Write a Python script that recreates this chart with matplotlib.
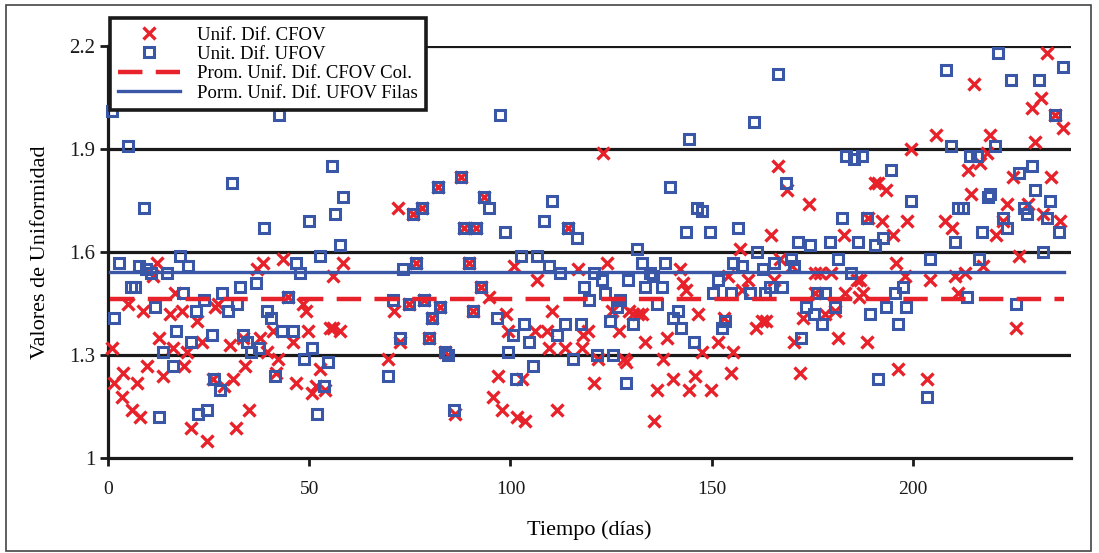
import matplotlib
matplotlib.use("Agg")
import matplotlib.pyplot as plt
from matplotlib.patches import Rectangle

plt.rcParams['font.family'] = ['Liberation Serif', 'DejaVu Serif']

# Unif. Dif. UFOV (cuadrados azules)
ufov_dias = [1.0, 1.5, 2.7, 5.0, 5.7, 6.7, 7.7, 8.9, 9.4, 10.7,
             11.7, 12.7, 13.7, 14.7, 16.1, 16.9, 17.9, 18.6, 19.9, 20.6,
             21.9, 22.4, 23.9, 24.6, 25.8, 26.3, 27.8, 28.3, 29.8, 30.8,
             32.0, 32.8, 33.5, 34.5, 35.5, 36.8, 37.5, 38.8, 39.5, 40.5,
             41.5, 42.5, 43.2, 44.7, 46.0, 46.7, 47.7, 48.7, 49.9, 50.7,
             51.9, 52.7, 53.7, 54.7, 55.7, 56.4, 57.6, 58.4, 69.6, 70.8,
             72.5, 73.3, 74.8, 75.8, 76.5, 78.0, 78.5, 79.8, 80.5, 82.0,
             82.5, 83.7, 84.5, 86.0, 87.7, 88.4, 89.7, 90.7, 91.4, 92.7,
             93.4, 94.7, 96.6, 97.4, 98.6, 99.4, 100.6, 101.4, 102.6, 103.4,
             104.6, 105.6, 106.6, 108.3, 109.6, 110.3, 111.6, 112.3, 113.5, 114.3,
             115.5, 116.5, 117.5, 118.3, 119.5, 120.7, 121.5, 122.7, 123.5, 124.7,
             125.5, 126.5, 127.2, 128.7, 129.2, 130.4, 131.4, 132.7, 133.4, 134.7,
             135.4, 136.4, 137.6, 138.4, 139.6, 140.4, 141.6, 142.4, 143.6, 144.3,
             145.6, 146.3, 147.6, 149.6, 150.3, 151.5, 152.5, 153.3, 154.8, 155.3,
             156.5, 157.5, 159.5, 160.5, 161.2, 162.7, 163.2, 164.5, 165.5, 166.5,
             167.5, 168.4, 169.7, 170.4, 171.4, 172.2, 173.4, 174.4, 175.4, 176.1,
             177.4, 178.1, 179.4, 180.6, 181.4, 182.4, 183.4, 184.6, 185.3, 186.3,
             187.3, 188.6, 189.3, 190.6, 191.3, 192.5, 193.3, 194.5, 195.5, 196.3,
             197.5, 198.3, 199.5, 203.5, 204.2, 208.2, 209.4, 210.4, 211.2, 212.4,
             213.4, 214.2, 215.9, 216.4, 217.1, 218.6, 219.1, 220.4, 221.1, 222.4,
             223.4, 224.3, 225.6, 226.3, 227.6, 228.3, 229.6, 230.3, 231.3, 232.3,
             233.3, 234.0, 235.3, 236.3, 237.3]
ufov_vals = [2.01, 1.41, 1.57, 1.91, 1.50, 1.50, 1.56, 1.73, 1.55, 1.54,
             1.44, 1.12, 1.31, 1.54, 1.27, 1.37, 1.59, 1.48, 1.56, 1.34,
             1.43, 1.13, 1.46, 1.14, 1.36, 1.23, 1.20, 1.48, 1.43, 1.80,
             1.45, 1.50, 1.36, 1.34, 1.31, 1.51, 1.32, 1.67, 1.43, 1.41,
             1.24, 2.00, 1.37, 1.47, 1.37, 1.57, 1.54, 1.29, 1.69, 1.32,
             1.13, 1.59, 1.21, 1.28, 1.85, 1.71, 1.62, 1.76, 1.24, 1.46,
             1.35, 1.55, 1.45, 1.71, 1.57, 1.73, 1.46, 1.35, 1.41, 1.79,
             1.44, 1.31, 1.30, 1.14, 1.82, 1.67, 1.57, 1.43, 1.67, 1.50,
             1.76, 1.73, 1.41, 2.00, 1.66, 1.31, 1.36, 1.23, 1.59, 1.39,
             1.34, 1.27, 1.59, 1.69, 1.56, 1.75, 1.36, 1.54, 1.39, 1.67,
             1.29, 1.64, 1.39, 1.50, 1.46, 1.54, 1.30, 1.52, 1.48, 1.40,
             1.30, 1.44, 1.46, 1.22, 1.52, 1.39, 1.61, 1.57, 1.50, 1.54,
             1.53, 1.45, 1.50, 1.57, 1.79, 1.41, 1.43, 1.38, 1.66, 1.93,
             1.34, 1.73, 1.72, 1.66, 1.48, 1.52, 1.38, 1.40, 1.48, 1.57,
             1.67, 1.56, 1.48, 1.98, 1.60, 1.55, 1.48, 1.50, 1.57, 2.12,
             1.50, 1.80, 1.58, 1.56, 1.63, 1.35, 1.44, 1.62, 1.42, 1.48,
             1.39, 1.48, 1.63, 1.44, 1.58, 1.70, 1.88, 1.54, 1.87, 1.63,
             1.88, 1.70, 1.42, 1.62, 1.23, 1.64, 1.44, 1.84, 1.48, 1.39,
             1.50, 1.44, 1.75, 1.18, 1.58, 2.13, 1.91, 1.63, 1.73, 1.73,
             1.47, 1.88, 1.88, 1.58, 1.66, 1.76, 1.77, 1.91, 2.18, 1.70,
             1.67, 2.10, 1.45, 1.83, 1.73, 1.71, 1.85, 1.78, 2.10, 1.60,
             1.70, 1.75, 2.00, 1.66, 2.14]

# Unif. Dif. CFOV (cruces rojas)
cfov_dias = [1.0, 1.5, 3.5, 3.7, 5.0, 6.0, 7.2, 8.0, 8.7, 9.7,
             11.2, 12.2, 12.7, 13.7, 15.4, 16.1, 16.6, 18.4, 18.9, 19.6,
             20.6, 22.1, 23.4, 24.6, 26.1, 26.6, 27.3, 28.8, 30.3, 31.1,
             31.8, 33.5, 34.0, 35.0, 37.0, 37.8, 38.5, 39.5, 41.0, 41.7,
             42.2, 43.5, 44.7, 46.0, 46.7, 48.4, 49.2, 49.7, 50.7, 51.7,
             52.7, 53.9, 55.2, 55.9, 55.9, 57.6, 58.4, 69.6, 71.1, 72.0,
             72.5, 74.8, 75.8, 76.5, 78.0, 78.5, 79.8, 80.5, 82.0, 82.5,
             83.7, 86.2, 87.7, 88.4, 89.7, 90.7, 91.4, 92.7, 93.4, 94.7,
             95.7, 96.9, 97.9, 98.9, 99.4, 100.9, 101.6, 102.9, 103.6, 106.1,
             106.6, 109.1, 109.6, 110.3, 111.6, 113.5, 114.3, 116.8, 117.8, 118.0,
             119.3, 120.7, 121.7, 123.0, 124.0, 125.2, 127.0, 128.2, 128.7, 129.4,
             130.4, 131.7, 132.7, 133.4, 135.7, 136.4, 137.9, 138.9, 140.4, 142.1,
             142.9, 143.6, 144.3, 145.8, 146.6, 147.6, 149.8, 151.5, 153.0, 154.0,
             154.8, 155.3, 157.0, 157.5, 159.0, 161.0, 162.5, 163.5, 164.7, 165.5,
             166.5, 167.0, 168.7, 169.9, 170.4, 171.9, 172.7, 174.2, 175.7, 175.7,
             176.9, 178.1, 179.6, 180.6, 181.4, 182.9, 183.1, 186.1, 186.6, 186.8,
             187.6, 188.6, 188.8, 190.6, 191.3, 192.3, 193.3, 195.0, 195.8, 196.3,
             198.0, 198.5, 199.5, 203.5, 204.2, 205.7, 208.0, 209.7, 210.4, 211.2,
             212.9, 213.7, 214.4, 215.2, 216.6, 217.4, 218.4, 219.1, 220.6, 222.4,
             223.4, 224.8, 225.6, 226.3, 228.6, 229.6, 230.3, 231.8, 232.3, 233.3,
             234.3, 235.3, 236.5, 237.3]
cfov_vals = [1.32, 1.22, 1.18, 1.25, 1.45, 1.14, 1.22, 1.12, 1.43, 1.27,
             1.53, 1.57, 1.35, 1.24, 1.42, 1.32, 1.48, 1.43, 1.27, 1.31,
             1.09, 1.40, 1.34, 1.05, 1.23, 1.44, 1.45, 1.21, 1.33, 1.23,
             1.09, 1.35, 1.27, 1.14, 1.55, 1.35, 1.57, 1.31, 1.37, 1.25,
             1.29, 1.58, 1.47, 1.34, 1.22, 1.45, 1.43, 1.37, 1.19, 1.21,
             1.26, 1.20, 1.38, 1.38, 1.53, 1.37, 1.57, 1.29, 1.43, 1.73,
             1.34, 1.45, 1.71, 1.57, 1.73, 1.46, 1.35, 1.41, 1.79, 1.44,
             1.31, 1.13, 1.82, 1.67, 1.57, 1.43, 1.67, 1.50, 1.76, 1.47,
             1.18, 1.24, 1.14, 1.42, 1.37, 1.56, 1.12, 1.23, 1.11, 1.37,
             1.52, 1.37, 1.32, 1.43, 1.14, 1.32, 1.67, 1.55, 1.32, 1.36,
             1.37, 1.22, 1.29, 1.89, 1.57, 1.43, 1.37, 1.29, 1.28, 1.43,
             1.42, 1.42, 1.42, 1.34, 1.11, 1.20, 1.29, 1.35, 1.23, 1.55,
             1.51, 1.49, 1.20, 1.24, 1.42, 1.31, 1.20, 1.34, 1.41, 1.53,
             1.25, 1.31, 1.61, 1.49, 1.52, 1.38, 1.40, 1.40, 1.65, 1.52,
             1.85, 1.58, 1.78, 1.56, 1.34, 1.25, 1.41, 1.74, 1.54, 1.48,
             1.54, 1.42, 1.54, 1.43, 1.35, 1.65, 1.48, 1.52, 1.47, 1.52,
             1.48, 1.34, 1.70, 1.80, 1.80, 1.69, 1.78, 1.65, 1.57, 1.26,
             1.53, 1.69, 1.90, 1.23, 1.52, 1.94, 1.69, 1.67, 1.53, 1.48,
             1.54, 1.84, 1.77, 2.09, 1.86, 1.56, 1.89, 1.94, 1.65, 1.69,
             1.74, 1.82, 1.38, 1.59, 1.74, 2.02, 1.92, 2.05, 1.71, 2.18,
             1.82, 2.00, 1.69, 1.96]

# promedios (lineas horizontales)
linea_dias = [0.5, 237.5]
prom_cfov_col = 1.464
prom_ufov_filas = 1.543

rojo = '#e8222b'
azul = '#3a56a6'

fig = plt.figure(figsize=(10.99, 5.53), dpi=100)
ax = fig.add_axes([0.0983, 0.171, 0.8762, 0.7458])

for yv in [1.3, 1.6, 1.9, 2.2]:
    ax.axhline(yv, color='#1a1a1a', lw=2.3, zorder=1)

ax.plot(cfov_dias, cfov_vals, linestyle='none', marker='x', ms=9, mew=2.4,
        color=rojo, label='Unif. Dif. CFOV', zorder=3, clip_on=False)
ax.plot(ufov_dias, ufov_vals, linestyle='none', marker='s', ms=7.6, mew=2.2,
        mfc='none', mec=azul, label='Unit. Dif. UFOV', zorder=4, clip_on=False)
ax.plot(linea_dias, [prom_cfov_col] * 2, color=rojo, lw=3.2,
        linestyle=(0, (5.5, 3)), label='Prom. Unif. Dif. CFOV Col.', zorder=5)
ax.plot(linea_dias, [prom_ufov_filas] * 2, color=azul, lw=2.4,
        label='Porm. Unif. Dif. UFOV Filas', zorder=5)

ax.set_xlim(0, 239.3)
ax.set_ylim(1, 2.2)
ax.set_xticks([0, 50, 100, 150, 200])
ax.set_yticks([1, 1.3, 1.6, 1.9, 2.2])
ax.set_yticklabels(['1', '1.3', '1.6', '1.9', '2.2'])

for s in ['top', 'right']:
    ax.spines[s].set_visible(False)
for s in ['left', 'bottom']:
    ax.spines[s].set_linewidth(2.3)
    ax.spines[s].set_color('#1a1a1a')

ax.tick_params(axis='x', direction='out', length=6, width=2, pad=10,
               labelsize=14, colors='#1a1a1a')
ax.tick_params(axis='y', direction='out', length=6, width=2, pad=3,
               labelsize=15, colors='#1a1a1a')

ax.set_xlabel('Tiempo (días)', fontsize=16, labelpad=16)
ax.set_ylabel('Valores de Uniformidad', fontsize=16, labelpad=14)

leg = ax.legend(loc='upper left', bbox_to_anchor=(0.1001, 0.9675),
                bbox_transform=fig.transFigure, fontsize=13.5, frameon=True,
                fancybox=False, framealpha=1, edgecolor='#1a1a1a',
                borderpad=0.45, labelspacing=0.12, handlelength=3.3,
                handletextpad=0.9, borderaxespad=0)
leg.get_frame().set_linewidth(2.6)
leg.set_zorder(10)

# marco exterior
fig.patches.append(Rectangle((0.0055, 0.0036), 0.987, 0.987,
                             transform=fig.transFigure, fill=False,
                             edgecolor='#444444', lw=1.2))

plt.savefig('out.png', dpi=100)
